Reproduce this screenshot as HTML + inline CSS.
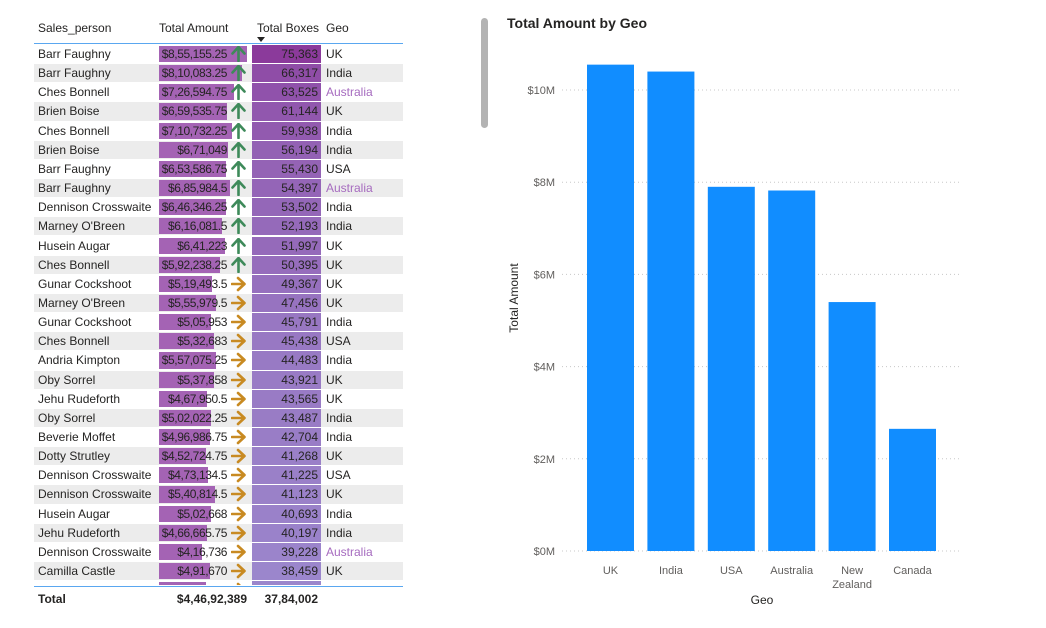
<!DOCTYPE html>
<html><head><meta charset="utf-8">
<style>
body{margin:0;width:1046px;height:628px;background:#fff;font-family:"Liberation Sans",sans-serif;overflow:hidden;position:relative}
.t{position:absolute;white-space:nowrap;font-size:12px;color:#252423}
.n{letter-spacing:-0.4px}
.hdr{position:absolute;top:21px;font-size:12px;color:#252423}
</style></head><body>
<div id="table" style="position:absolute;left:0;top:0;width:410px;height:628px">
  <div class="hdr" style="left:38px">Sales_person</div>
  <div class="hdr" style="left:159px">Total Amount</div>
  <div class="hdr" style="left:257px">Total Boxes</div>
  <div style="position:absolute;left:257px;top:37px;width:0;height:0;border-left:4px solid transparent;border-right:4px solid transparent;border-top:5px solid #252423"></div>
  <div class="hdr" style="left:326px">Geo</div>
  <div style="position:absolute;left:34px;top:43px;width:369px;height:1px;background:#5aa7f0"></div>
  <div id="rows" style="position:absolute;left:0;top:45px;width:410px;height:540px;overflow:hidden"></div>
  <div style="position:absolute;left:34px;top:586px;width:369px;height:1px;background:#5aa7f0"></div>
  <div class="t" style="left:38px;top:592px;font-weight:bold">Total</div>
  <div class="t" style="left:150px;width:97px;text-align:right;top:592px;font-weight:bold">$4,46,92,389</div>
  <div class="t" style="left:252px;width:66px;text-align:right;top:592px;font-weight:bold">37,84,002</div>
  <div style="position:absolute;left:481px;top:18px;width:7px;height:110px;background:#b3b3b3;border-radius:4px"></div>
</div>
<svg id="chart" style="position:absolute;left:0;top:0" width="1046" height="628"></svg>
<script>
const people=["Barr Faughny","Barr Faughny","Ches Bonnell","Brien Boise","Ches Bonnell","Brien Boise","Barr Faughny","Barr Faughny","Dennison Crosswaite","Marney O'Breen","Husein Augar","Ches Bonnell","Gunar Cockshoot","Marney O'Breen","Gunar Cockshoot","Ches Bonnell","Andria Kimpton","Oby Sorrel","Jehu Rudeforth","Oby Sorrel","Beverie Moffet","Dotty Strutley","Dennison Crosswaite","Dennison Crosswaite","Husein Augar","Jehu Rudeforth","Dennison Crosswaite","Camilla Castle","Brien Boise"];
const amounts=[855155.25,810083.25,726594.75,659535.75,710732.25,671049,653586.75,685984.5,646346.25,616081.5,641223,592238.25,519493.5,555979.5,505953,532683,557075.25,537858,467950.5,502022.25,496986.75,452724.75,473134.5,540814.5,502668,466665.75,416736,491670,456054];
const amountLabels=["$8,55,155.25","$8,10,083.25","$7,26,594.75","$6,59,535.75","$7,10,732.25","$6,71,049","$6,53,586.75","$6,85,984.5","$6,46,346.25","$6,16,081.5","$6,41,223","$5,92,238.25","$5,19,493.5","$5,55,979.5","$5,05,953","$5,32,683","$5,57,075.25","$5,37,858","$4,67,950.5","$5,02,022.25","$4,96,986.75","$4,52,724.75","$4,73,134.5","$5,40,814.5","$5,02,668","$4,66,665.75","$4,16,736","$4,91,670","$4,56,054"];
const boxes=[75363,66317,63525,61144,59938,56194,55430,54397,53502,52193,51997,50395,49367,47456,45791,45438,44483,43921,43565,43487,42704,41268,41225,41123,40693,40197,39228,38459,38457];
const geos=["UK","India","Australia","UK","India","India","USA","Australia","India","India","UK","UK","UK","UK","India","USA","India","UK","UK","India","India","UK","USA","UK","India","India","Australia","UK","Australia"];
const trendUp=[1,1,1,1,1,1,1,1,1,1,1,1,0,0,0,0,0,0,0,0,0,0,0,0,0,0,0,0,0];

const upSvg='<svg width="15" height="16" viewBox="0 0 15 16"><path d="M7.5 1 L1.5 7.5 M7.5 1 L13.5 7.5 M7.5 1.5 V15" stroke="#3e8a5a" stroke-width="2.6" fill="none" stroke-linecap="round"/></svg>';
const rightSvg='<svg width="15" height="16" viewBox="0 0 15 16"><path d="M13.5 8 L7 2 M13.5 8 L7 14 M13 8 H1" stroke="#c88a22" stroke-width="2.6" fill="none" stroke-linecap="round"/></svg>';
const rows=document.getElementById('rows');
const rowH=19.15, maxAmt=855155.25;
function mix(a,b,t){return a.map((v,i)=>Math.round(v+(b[i]-v)*t));}
for(let i=0;i<people.length;i++){
  const r=document.createElement('div');
  
  
  r.style.cssText=`position:absolute;left:34px;top:${i*rowH}px;width:369px;height:${rowH}px;background:${i%2?'#ececec':'#fff'};border-bottom:1px solid #fff;box-sizing:border-box`;
  const w=amounts[i]/maxAmt*88;
  const t=(75363-boxes[i])/(75363-38457);
  const c=mix([139,58,155],[155,134,204],t);
  const up=trendUp[i];
  r.innerHTML=`<div class="t" style="left:4px;top:2px">${people[i]}</div>
  <div style="position:absolute;left:125px;top:1px;width:${w}px;height:${rowH-3}px;background:#a463b4"></div>
  <div class="t n" style="left:116px;width:77px;text-align:right;top:2px">${amountLabels[i]}</div>
  <div style="position:absolute;left:197px;top:1px">${up?upSvg:rightSvg}</div>
  <div style="position:absolute;left:218px;top:0;width:69px;height:${rowH-1}px;background:rgb(${c})"></div>
  <div class="t" style="left:218px;width:66px;text-align:right;top:2px">${boxes[i].toLocaleString('en-IN')}</div>
  <div class="t" style="left:292px;top:2px;color:${geos[i]=='Australia'?'#a66bbf':'#252423'}">${geos[i]}</div>`;
  rows.appendChild(r);
}
</script>
<script>
const cats=["UK","India","USA","Australia","New Zealand","Canada"];
const vals=[10.55,10.4,7.9,7.82,5.4,2.65];
const ticks=[0,2,4,6,8,10];
const svg=document.getElementById('chart');
const NS='http://www.w3.org/2000/svg';
const y0=551, pxPerM=46.1, x0=587, step=60.4, bw=47;
const y=v=>y0-v*pxPerM;
function mk(tag,attrs,txt){const e=document.createElementNS(NS,tag);for(const k in attrs)e.setAttribute(k,attrs[k]);if(txt!=null)e.textContent=txt;svg.appendChild(e);return e;}
let e=mk('text',{x:507,y:28,'font-size':14,'font-weight':'bold',fill:'#252423','font-family':'Liberation Sans'},'Total Amount by Geo');


ticks.forEach(t=>{
  const g=mk('line',{x1:562,x2:960,y1:y(t),y2:y(t),stroke:'#c8c8c8','stroke-dasharray':'1 3'});
  
  
  const l=mk('text',{x:555,y:y(t)+4,'text-anchor':'end','font-size':11,fill:'#605e5c','font-family':'Liberation Sans'},'$'+t+'M');
  
  
});
cats.forEach((c,i)=>{
  const r=mk('rect',{x:x0+i*step,y:y(vals[i]),width:bw,height:vals[i]*pxPerM,fill:'#118DFF'});
  
  
  const parts=c.split(' ');
  parts.forEach((p,j)=>{
    const l=mk('text',{x:x0+i*step+bw/2,y:574+j*14,'text-anchor':'middle','font-size':11,fill:'#605e5c','font-family':'Liberation Sans'},p);
    
    
  });
});
e=mk('text',{x:762,y:604,'text-anchor':'middle','font-size':12,fill:'#252423','font-family':'Liberation Sans'},'Geo');


e=mk('text',{x:0,y:0,'text-anchor':'middle','font-size':12,fill:'#252423','font-family':'Liberation Sans',transform:'translate(518,298) rotate(-90)'},'Total Amount');


</script>
</body></html>
